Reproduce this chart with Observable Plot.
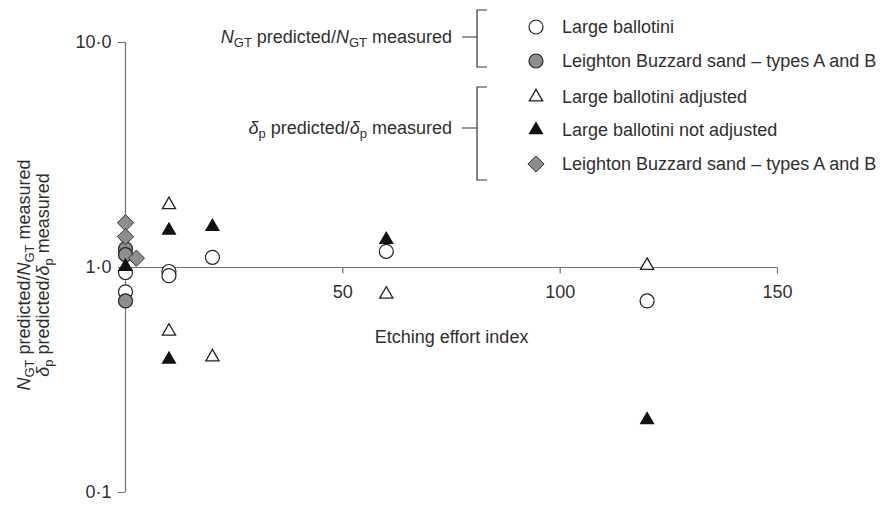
<!DOCTYPE html>
<html><head><meta charset="utf-8">
<script src="https://cdn.jsdelivr.net/npm/d3@7"></script>
<script src="https://cdn.jsdelivr.net/npm/@observablehq/plot@0.6"></script>
<style>body{margin:0;background:#fff;} #chart{width:891px;height:506px;}</style>
</head><body><div id="chart"></div>
<script>
// ---- data (x = etching effort index, y = predicted/measured ratio) ----
const xTicks = [50, 100, 150];
const yTicks = [0.1, 1, 10];
const yTickLabels = ["0·1", "1·0", "10·0"];
const largeBallotini = [[0,0.78],[0,0.95],[10,0.96],[10,0.92],[20,1.11],[60,1.18],[120,0.71]];
const leightonNGT = [[0,1.21],[0,1.14],[0,0.71]];
const ballotiniAdjusted = [[10,1.9],[10,0.52],[20,0.40],[60,0.76],[120,1.02]];
const ballotiniNotAdjusted = [[0,1.01],[10,1.46],[10,0.39],[20,1.52],[60,1.33],[120,0.21]];
const leightonDelta = [[0,1.58],[0,1.37],[2.5,1.10]];
const xLabel = "Etching effort index";

const font = "'Liberation Sans', Arial, Helvetica, sans-serif";
const fs = 18;
const ink = "#2f2f2f";
const axisGray = "#6e6e6e";
const grayFill = "#8e8e8e";

const vTick = {draw(ctx){ctx.moveTo(0,0);ctx.lineTo(0,6);}};

const styles = {
  openCircle: {symbol:"circle", r:7, fill:"white", stroke:"#222", strokeWidth:1.2},
  grayCircle: {symbol:"circle", r:7, fill:grayFill, stroke:"#222", strokeWidth:1.2},
  openTri: {symbol:"triangle", r:4.9, fill:"white", stroke:"#222", strokeWidth:1.3},
  filledTri: {symbol:"triangle", r:5.6, fill:"#111", stroke:"none"},
  diamond: {symbol:"diamond2", r:7.3, fill:grayFill, stroke:"#333", strokeWidth:1}
};

const plot = Plot.plot({
  width: 891, height: 506,
  marginLeft: 125, marginRight: 114, marginTop: 42, marginBottom: 14,
  style: {fontFamily: font, fontSize: fs + "px", color: ink, background: "white"},
  x: {domain: [0, 150], axis: null},
  y: {type: "log", domain: [0.1, 10], axis: null},
  marks: [
    Plot.ruleX([0], {stroke: axisGray, strokeWidth: 1.2}),
    Plot.ruleY([1], {stroke: axisGray, strokeWidth: 1.2}),
    Plot.axisY(yTicks, {anchor: "left", tickSize: 7, tickPadding: 7, stroke: axisGray,
      tickFormat: d => yTickLabels[yTicks.indexOf(d)], fill: ink, fontSize: fs}),
    Plot.dot(xTicks, {x: d => d, y: 1, symbol: vTick, fill: "none", stroke: axisGray, strokeWidth: 1.2}),
    Plot.text(xTicks, {x: d => d, y: 1, text: d => String(d), dy: 25, fill: ink, fontSize: fs}),
    Plot.text([xLabel], {frameAnchor: "middle", dy: 70, fill: ink, fontSize: fs}),
    Plot.dot(largeBallotini, {x: d => d[0], y: d => d[1], ...styles.openCircle}),
    Plot.dot(leightonNGT, {x: d => d[0], y: d => d[1], ...styles.grayCircle}),
    Plot.dot(ballotiniAdjusted, {x: d => d[0], y: d => d[1], ...styles.openTri}),
    Plot.dot(ballotiniNotAdjusted, {x: d => d[0], y: d => d[1], ...styles.filledTri}),
    Plot.dot(leightonDelta, {x: d => d[0], y: d => d[1], ...styles.diamond})
  ]
});
document.getElementById("chart").appendChild(plot);

// ---- annotations: y label and legend ----
const svg = d3.select(plot);
const g = svg.append("g").attr("font-family", font).attr("font-size", fs).attr("fill", ink);

function ratioLabel(sel, sym) {
  const [main, sub] = sym;
  sel.append("tspan").attr("font-style", "italic").text(main);
  sel.append("tspan").attr("font-size", 13).attr("dy", 4).text(sub);
  sel.append("tspan").attr("dy", -4).text(" predicted/");
  sel.append("tspan").attr("font-style", "italic").text(main);
  sel.append("tspan").attr("font-size", 13).attr("dy", 4).text(sub);
  sel.append("tspan").attr("dy", -4).text(" measured");
}

const yl1 = g.append("text").attr("text-anchor", "middle").attr("transform", "translate(30,275) rotate(-90)");
ratioLabel(yl1, ["N", "GT"]);
const yl2 = g.append("text").attr("text-anchor", "middle").attr("transform", "translate(49,275) rotate(-90)");
ratioLabel(yl2, ["δ", "p"]);

// group labels with brackets
const t1 = g.append("text").attr("text-anchor", "end").attr("x", 452).attr("y", 43);
ratioLabel(t1, ["N", "GT"]);
const t2 = g.append("text").attr("text-anchor", "end").attr("x", 452).attr("y", 134);
ratioLabel(t2, ["δ", "p"]);

const br = g.append("g").attr("stroke", "#333").attr("stroke-width", 1.2).attr("fill", "none");
br.append("path").attr("d", "M487,10H477V67H487M462,37H477");
br.append("path").attr("d", "M487,87H477V180H487M462,128H477");

const legendItems = [
  ["Large ballotini", styles.openCircle, 27],
  ["Leighton Buzzard sand – types A and B", styles.grayCircle, 61],
  ["Large ballotini adjusted", styles.openTri, 97],
  ["Large ballotini not adjusted", styles.filledTri, 130],
  ["Leighton Buzzard sand – types A and B", styles.diamond, 164]
];
const symMap = {circle: d3.symbolCircle, triangle: d3.symbolTriangle, diamond2: d3.symbolDiamond2};
legendItems.forEach(([label, st, y]) => {
  g.append("path")
    .attr("d", d3.symbol(symMap[st.symbol], Math.PI * st.r * st.r)())
    .attr("transform", `translate(536,${y})`)
    .attr("fill", st.fill).attr("stroke", st.stroke).attr("stroke-width", st.strokeWidth || 0);
  g.append("text").attr("text-anchor", "start").attr("x", 562).attr("y", y + 6).text(label);
});
</script>
</body></html>
